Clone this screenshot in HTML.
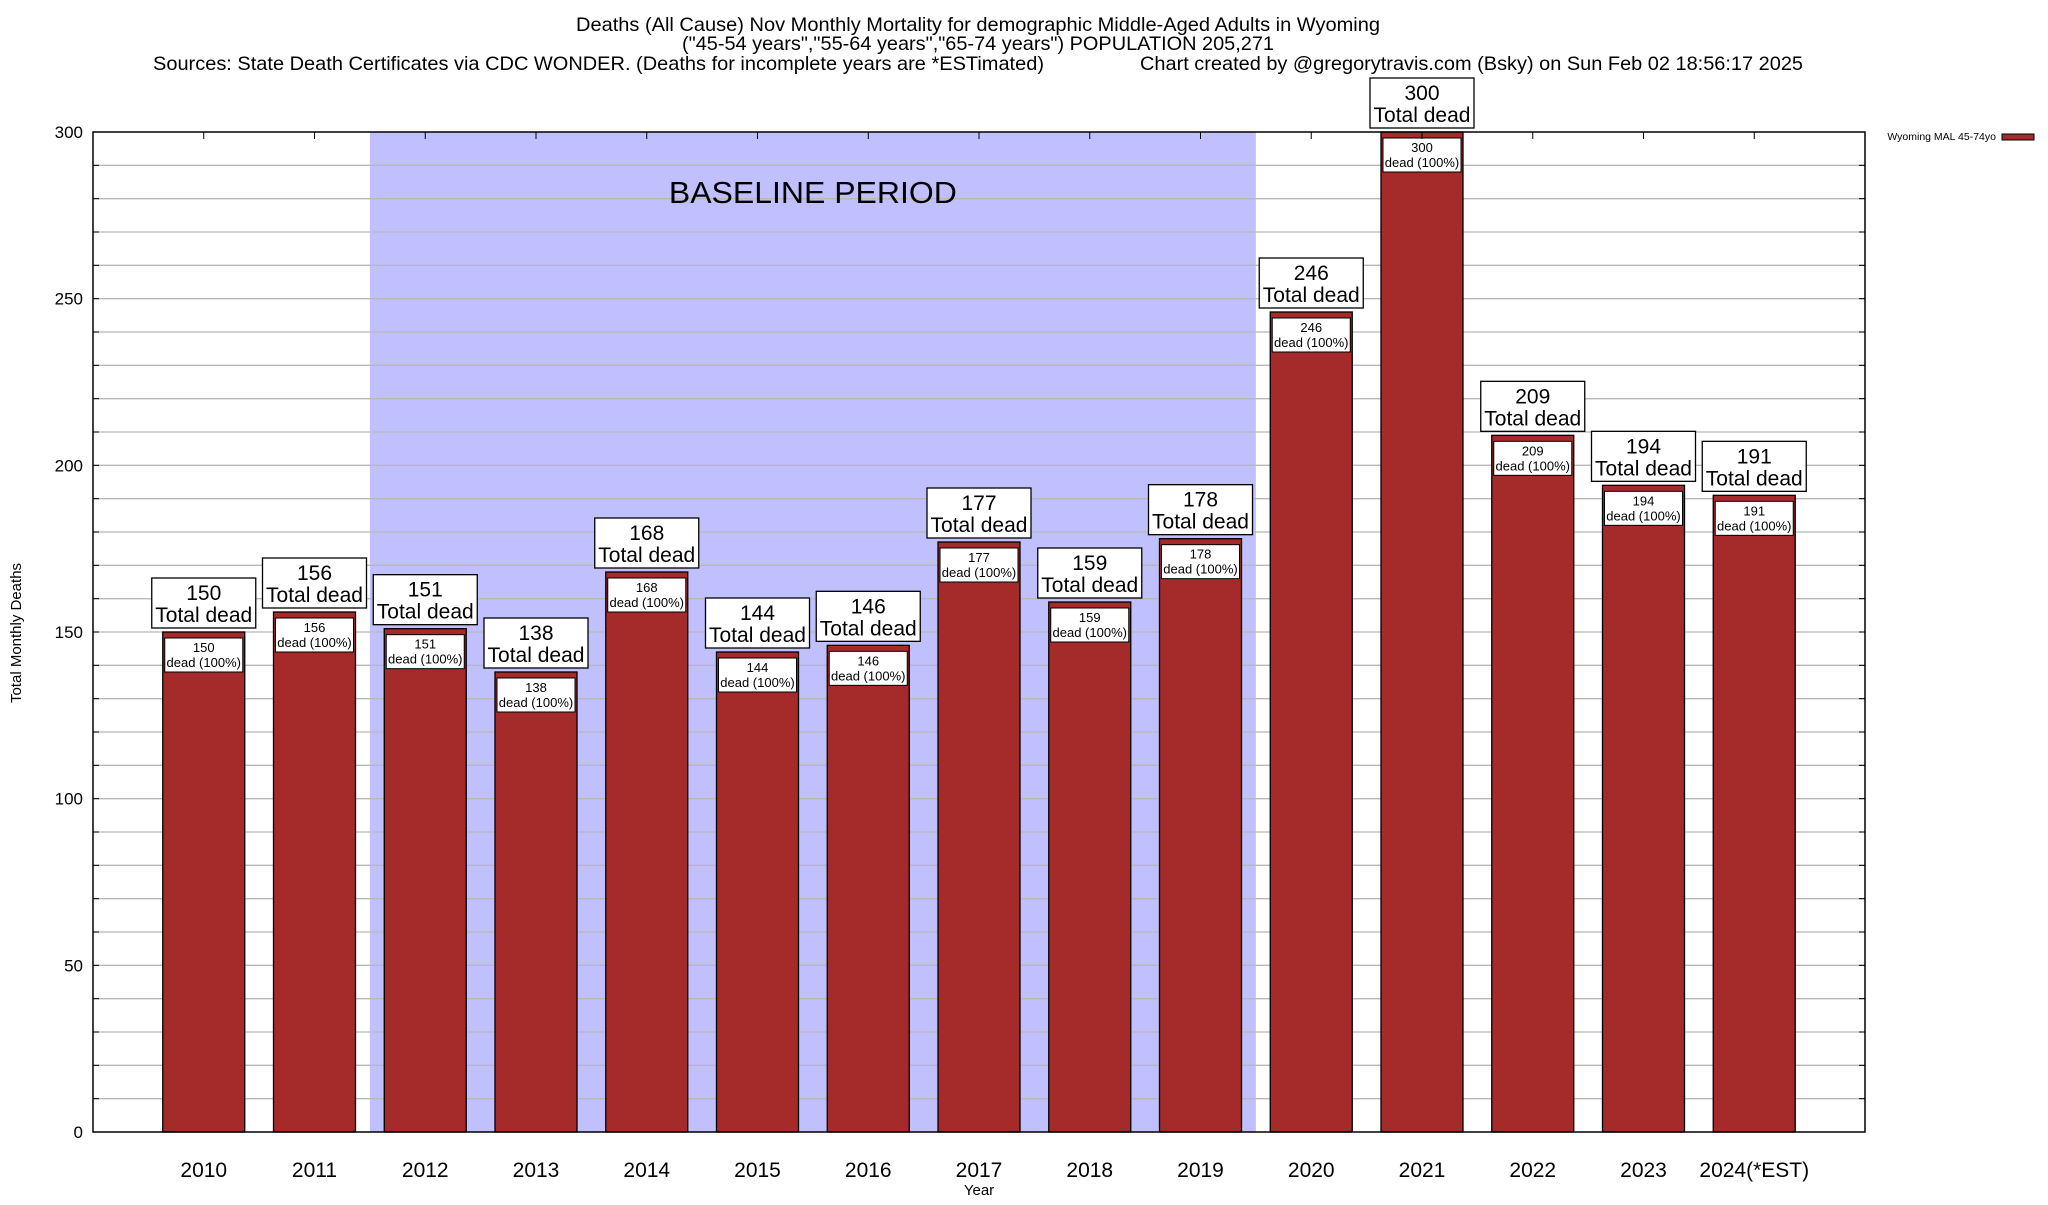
<!DOCTYPE html>
<html><head><meta charset="utf-8"><style>
html,body{margin:0;padding:0;background:#fff;}
svg text{font-family:"Liberation Sans",sans-serif;}
</style></head><body>
<svg id="chart" width="2048" height="1200" viewBox="0 0 2048 1200" xmlns="http://www.w3.org/2000/svg">
<g>
<text x="978" y="31" font-size="19.5" text-anchor="middle" textLength="804" lengthAdjust="spacingAndGlyphs">Deaths (All Cause) Nov Monthly Mortality for demographic Middle-Aged Adults in Wyoming</text>
<text x="978" y="50" font-size="19.5" text-anchor="middle" textLength="592" lengthAdjust="spacingAndGlyphs">("45-54 years","55-64 years","65-74 years") POPULATION 205,271</text>
<text x="153" y="70" font-size="19.5" textLength="891" lengthAdjust="spacingAndGlyphs">Sources: State Death Certificates via CDC WONDER. (Deaths for incomplete years are *ESTimated)</text>
<text x="1140" y="70" font-size="19.5" textLength="663" lengthAdjust="spacingAndGlyphs">Chart created by @gregorytravis.com (Bsky) on Sun Feb 02 18:56:17 2025</text>
</g>
<g id="plot"></g>
<text transform="translate(21,633) rotate(-90)" font-size="15" text-anchor="middle">Total Monthly Deaths</text>
<text x="979" y="1195" font-size="15" text-anchor="middle">Year</text>
<g>
<text x="1996" y="140" font-size="10.5" text-anchor="end">Wyoming MAL 45-74yo</text>
<rect x="2002" y="134" width="32" height="6" fill="#a52a2a" stroke="#000" stroke-width="1"/>
</g>
</svg>
<script>
const categories = ["2010","2011","2012","2013","2014","2015","2016","2017","2018","2019","2020","2021","2022","2023","2024(*EST)"];
const values = [150,156,151,138,168,144,146,177,159,178,246,300,209,194,191];
const yTicks = [0,50,100,150,200,250,300];
const baselineStart = "2012";
const baselineEnd = "2019";

const NS = "http://www.w3.org/2000/svg";
const L = 93, R = 1865, T = 132, B = 1132, yMax = 300;
const step = (R - L) / (categories.length + 1);
const xs = i => L + step * (i + 1);
const ys = v => B - (v / yMax) * (B - T);
const bw = 82;
const g = document.getElementById('plot');
function mk(tag, attrs, parent) {
  const e = document.createElementNS(NS, tag);
  for (const k in attrs) e.setAttribute(k, attrs[k]);
  (parent || g).appendChild(e);
  return e;
}
const bi = categories.indexOf(baselineStart), ei = categories.indexOf(baselineEnd);
const shade = mk('rect', {x: xs(bi) - step / 2, y: T, width: (ei - bi + 1) * step, height: B - T, fill: '#c0c0ff'});


for (let v = 10; v < yMax; v += 10) {
  const gl = mk('line', {x1: L, x2: R, y1: ys(v), y2: ys(v), stroke: '#b8b8b8', 'stroke-width': 1.3});
  
  
  mk('line', {x1: L, x2: L + 6, y1: ys(v), y2: ys(v), stroke: '#000'});
  mk('line', {x1: R, x2: R - 6, y1: ys(v), y2: ys(v), stroke: '#000'});
}
const bl = mk('text', {x: (xs(bi) + xs(ei)) / 2, y: 203, 'font-size': 31, 'text-anchor': 'middle', textLength: 288, lengthAdjust: 'spacingAndGlyphs'});
bl.textContent = 'BASELINE PERIOD';


yTicks.forEach(v => {
  const t = mk('text', {x: 83, y: ys(v) + 6, 'font-size': 17, 'text-anchor': 'end'});
  t.textContent = v;
  
  
});
categories.forEach((c, i) => {
  const x = xs(i), v = values[i], y = ys(v);
  const bar = mk('rect', {x: x - bw / 2, y: y, width: bw, height: B - y, fill: '#a52a2a', stroke: '#000', 'stroke-width': 1.3});
  
  
  const ib = mk('rect', {x: x - bw / 2 + 2, y: y + 6, width: bw - 4, height: 34, fill: '#fff', stroke: '#000', 'stroke-width': 1});
  
  
  const t1 = mk('text', {x: x, y: y + 20, 'font-size': 13, 'text-anchor': 'middle'}); t1.textContent = v;
  const t2 = mk('text', {x: x, y: y + 35, 'font-size': 13, 'text-anchor': 'middle'}); t2.textContent = 'dead (100%)';
  const ob = mk('rect', {x: x - 52, y: y - 54, width: 104, height: 50, fill: '#fff', stroke: '#000', 'stroke-width': 1.3});
  
  
  const t3 = mk('text', {x: x, y: y - 32, 'font-size': 21, 'text-anchor': 'middle'}); t3.textContent = v;
  const t4 = mk('text', {x: x, y: y - 10, 'font-size': 21, 'text-anchor': 'middle'}); t4.textContent = 'Total dead';
  const xl = mk('text', {x: x, y: 1177, 'font-size': 21, 'text-anchor': 'middle'});
  xl.textContent = c;
  
  
  mk('line', {x1: x, x2: x, y1: T, y2: T + 7, stroke: '#000'});
});
const frame = mk('rect', {x: L, y: T, width: R - L, height: B - T, fill: 'none', stroke: '#000', 'stroke-width': 1.5});


</script>
</body></html>
